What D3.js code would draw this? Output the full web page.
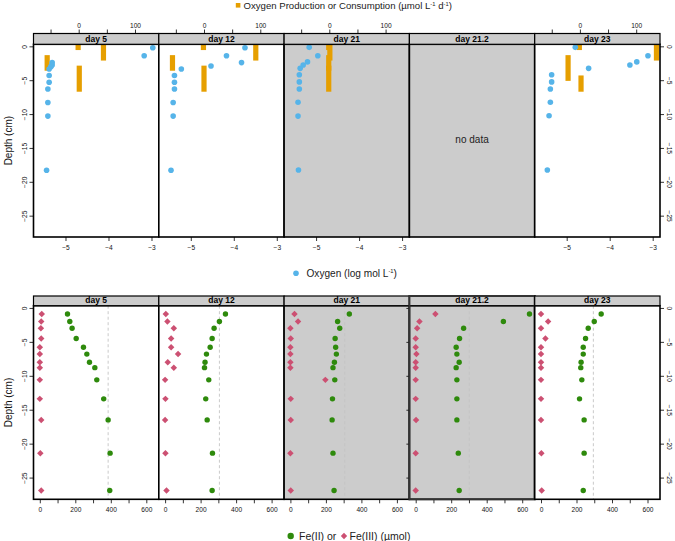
<!DOCTYPE html>
<html><head><meta charset="utf-8">
<script src="https://cdn.jsdelivr.net/npm/d3@7"></script>
<style>
body{margin:0;background:#fff}
text{font-family:"Liberation Sans",Arial,Helvetica,sans-serif}
</style>
</head><body>
<svg id="c" width="675" height="541"></svg>
<script>
// ---------- data ----------
const panels = ["day 5", "day 12", "day 21", "day 21.2", "day 23"];
const shaded = [false, false, true, true, false];
const depthTicks = [0, -5, -10, -15, -20, -25];
const o2Ticks = [-5, -4, -3];
const rateTicks = [-50, 0, 50, 100];
const rateLabels = [0, 100];
const feTicks = [0, 100, 200, 300, 400, 500, 600];
const feLabels = [0, 200, 400, 600];

// Oxygen (log mol L-1)
const o2Depth5  = [-0.2, -1.4, -2.4, -2.75, -3.0, -3.35, -4.3, -5.3, -6.3, -8.3, -10.3, -18.3];
const o2Value5  = [-2.97, -3.17, -5.31, -5.31, -5.34, -5.38, -5.38, -5.38, -5.41, -5.41, -5.41, -5.44];
const o2Depth12 = [-0.2, -1.4, -2.4, -2.9, -3.35, -4.3, -5.3, -6.3, -8.3, -10.3, -18.3];
const o2Value12 = [-3.74, -4.17, -3.82, -4.53, -5.22, -5.38, -5.38, -5.38, -5.41, -5.41, -5.46];
const o2Depth21 = [-0.15, -1.4, -2.3, -2.75, -3.25, -4.2, -5.25, -6.3, -8.25, -10.3, -18.25];
const o2Value21 = [-5.16, -4.96, -5.2, -5.3, -5.37, -5.39, -5.39, -5.39, -5.42, -5.42, -5.41];
const o2Depth23 = [-0.15, -1.4, -2.3, -2.75, -3.25, -4.2, -5.25, -6.3, -8.25, -10.25, -18.25];
const o2Value23 = [-4.8, -3.11, -3.37, -3.53, -4.49, -5.35, -5.35, -5.38, -5.38, -5.41, -5.45];

// Oxygen production / consumption (umol L-1 d-1) over depth intervals
const rateTop5  = [0.3, -1.3, 0.3, -2.85];
const rateBot5  = [-0.55, -3.6, -2.1, -6.7];
const rate5     = [-1, -56, 44, 1];
const rateTop12 = [0.3, -1.3, 0.3, -2.85];
const rateBot12 = [-0.55, -3.6, -2.1, -6.7];
const rate12    = [-1, -56, 92, 0];
const rateTop21 = [0.3, 0.3, -1.3, -2.85];
const rateBot21 = [-0.55, -2.1, -3.6, -6.7];
const rate21    = [-1, 1, -1, -1];
const rateTop23 = [0.3, -1.3, -4.3, 0.3];
const rateBot23 = [-0.55, -5.1, -6.7, -2.1];
const rate23    = [-1, -21, 2, 136];

// Fe (umol)
const feDepth = [-0.9, -2.0, -3.0, -4.5, -5.8, -6.8, -8.0, -8.8, -10.6, -13.4, -16.5, -21.4, -26.9];
const fe2_5   = [156, 169, 182, 205, 246, 265, 280, 310, 321, 360, 385, 396, 394];
const fe3_5   = [11, 8, 6, 8, 0, 0, 0, 0, 0, 0, 8, 3, 8];
const fe2_12  = [340, 306, 276, 265, 254, 233, 225, 222, 246, 229, 237, 267, 265];
const fe3_12  = [4, 13, 49, 34, 34, 73, 15, 49, 0, 2, 0, 2, 8];
const fe2_21  = [332, 266, 278, 252, 255, 259, 248, 240, 250, 237, 235, 240, 246];
const fe3_21  = [23, 43, 0, 2, 0, 0, 0, 0, 197, 2, 2, 0, 2];
const fe2_212 = [641, 494, 270, 247, 228, 232, 245, 228, 232, 232, 232, 240, 245];
const fe3_212 = [111, 21, 8, 0, 0, 4, 0, 0, 0, 0, 2, 0, 0];
const fe2_23  = [339, 300, 266, 251, 238, 238, 226, 224, 230, 217, 243, 243, 238];
const fe3_23  = [0, 40, 0, 25, 0, 0, 0, 0, 0, 0, 0, 2, 4];
const feRef   = [385, 306, 306, 302, 295];

// ---------- assemble ----------
const o2Sets = [[o2Depth5, o2Value5], [o2Depth12, o2Value12], [o2Depth21, o2Value21], null, [o2Depth23, o2Value23]];
const rateSets = [[rateTop5, rateBot5, rate5], [rateTop12, rateBot12, rate12], [rateTop21, rateBot21, rate21], null, [rateTop23, rateBot23, rate23]];
const feSets = [[fe2_5, fe3_5], [fe2_12, fe3_12], [fe2_21, fe3_21], [fe2_212, fe3_212], [fe2_23, fe3_23]];

const C_O2 = "#56B4E9", C_RATE = "#E69F00", C_FE2 = "#2E8A0C", C_FE3 = "#CC5072";
const GRAY = "#cccccc";

const W = 125.3, X0 = 33.5;
const px = i => X0 + i * W;
const RIGHT = px(5);

const yTop = d3.scaleLinear().domain([-28.15, 0.3]).range([237, 44.3]);
const yBot = d3.scaleLinear().domain([-28.2, 0.33]).range([499.3, 305.7]);
const xO2 = d3.scaleLinear().domain([-5.744, -2.83]).range([0, W]);
const xRate = d3.scaleLinear().domain([-80.3, 142.3]).range([0, W]);
const xFe = d3.scaleLinear().domain([-35.5, 670.4]).range([0, W]);

const svg = d3.select("#c");
const defs = svg.append("defs");
defs.append("clipPath").attr("id", "clipTop").append("rect")
  .attr("x", 0).attr("y", yTop.range()[1]).attr("width", W).attr("height", yTop.range()[0] - yTop.range()[1]);
defs.append("clipPath").attr("id", "clipBot").append("rect")
  .attr("x", 0).attr("y", yBot.range()[1]).attr("width", W).attr("height", yBot.range()[0] - yBot.range()[1]);

const fmt = d3.format("");
function styleAxis(g) {
  g.select(".domain").remove();
  g.selectAll(".tick line").attr("stroke", "#000").attr("stroke-width", 0.8);
  g.selectAll(".tick text").attr("font-size", 6.6).attr("fill", "#111")
    .style("font-family", "'Liberation Sans', Arial, sans-serif");
}

function rowFrame(y, stripTop, clipId, drawData, showAxes) {
  const stripBot = y.range()[1], bottom = y.range()[0];
  panels.forEach((name, i) => {
    const g = svg.append("g").attr("transform", `translate(${px(i)},0)`);
    g.append("rect").attr("x", 0).attr("y", stripBot).attr("width", W).attr("height", bottom - stripBot)
      .attr("fill", shaded[i] ? GRAY : "#fff");
    const dg = g.append("g").attr("clip-path", `url(#${clipId})`);
    drawData(dg, i);
    g.append("rect").attr("x", 0).attr("y", stripBot).attr("width", W).attr("height", bottom - stripBot)
      .attr("fill", "none").attr("stroke", "#000").attr("stroke-width", 1.6);
    g.append("rect").attr("x", 0).attr("y", stripTop).attr("width", W).attr("height", stripBot - stripTop)
      .attr("fill", GRAY).attr("stroke", "#000").attr("stroke-width", 1.2);
    g.append("text").attr("x", W / 2).attr("y", stripBot - 2.6).attr("text-anchor", "middle")
      .attr("font-size", 8.5).attr("font-weight", "bold").text(name);
    showAxes(g, i, stripTop, bottom);
  });
  // left and right depth axes
  const la = svg.append("g").attr("transform", `translate(${X0},0)`)
    .call(d3.axisLeft(y).tickValues(depthTicks).tickSize(4).tickFormat(d3.format("")));
  styleAxis(la);
  la.selectAll(".tick text").attr("transform", "rotate(-90)").attr("x", 0).attr("y", -7).attr("dy", 0)
    .attr("text-anchor", "middle");
  const ra = svg.append("g").attr("transform", `translate(${RIGHT},0)`)
    .call(d3.axisRight(y).tickValues(depthTicks).tickSize(4).tickFormat(d3.format("")));
  styleAxis(ra);
  ra.selectAll(".tick text").attr("transform", "rotate(90)").attr("x", 0).attr("y", -7).attr("dy", 0)
    .attr("text-anchor", "middle");
  // y title
  const cy = (stripBot + bottom) / 2;
  svg.append("text").attr("transform", `translate(11.5,${cy}) rotate(-90)`).attr("text-anchor", "middle")
    .attr("font-size", 10).attr("fill", "#111").text("Depth (cm)");
}

// ---------- top row: oxygen ----------
rowFrame(yTop, 33.5, "clipTop", (dg, i) => {
  const r = rateSets[i];
  if (r) {
    dg.selectAll("rect.rate").data(r[2].map((v, k) => ({ v, t: r[0][k], b: r[1][k] }))).join("rect")
      .attr("class", "rate")
      .attr("x", d => xRate(d.v) - 2.6).attr("width", 5.2)
      .attr("y", d => yTop(d.t)).attr("height", d => yTop(d.b) - yTop(d.t))
      .attr("fill", C_RATE);
  }
  const o = o2Sets[i];
  if (o) {
    dg.selectAll("circle").data(o[1].map((v, k) => ({ v, d: o[0][k] }))).join("circle")
      .attr("cx", d => xO2(d.v)).attr("cy", d => yTop(d.d)).attr("r", 2.8).attr("fill", C_O2);
  }
  if (!o) {
    dg.append("text").attr("x", W / 2).attr("y", 142.5).attr("text-anchor", "middle")
      .attr("font-size", 10).attr("fill", "#222").text("no data");
  }
}, (g, i, stripTop, bottom) => {
  if (!o2Sets[i]) return;
  const ta = g.append("g").attr("transform", `translate(0,${stripTop})`)
    .call(d3.axisTop(xRate).tickValues(rateTicks).tickSize(4).tickPadding(1.6)
      .tickFormat(d => rateLabels.includes(d) ? fmt(d) : ""));
  styleAxis(ta);
  const ba = g.append("g").attr("transform", `translate(0,${bottom})`)
    .call(d3.axisBottom(xO2).tickValues(o2Ticks).tickSize(4).tickPadding(4).tickFormat(d3.format("")));
  styleAxis(ba);
});

// ---------- bottom row: iron ----------
rowFrame(yBot, 296, "clipBot", (dg, i) => {
  const [f2, f3] = feSets[i];
  dg.append("line").attr("x1", xFe(feRef[i])).attr("x2", xFe(feRef[i]))
    .attr("y1", yBot.range()[1]).attr("y2", yBot.range()[0])
    .attr("stroke", "#c4c4c4").attr("stroke-width", 0.9).attr("stroke-dasharray", "3,2.5");
  dg.selectAll("path.fe3").data(f3.map((v, k) => ({ v, d: feDepth[k] }))).join("path")
    .attr("class", "fe3")
    .attr("d", d3.symbol(d3.symbolSquare, 21))
    .attr("transform", d => `translate(${xFe(d.v)},${yBot(d.d)}) rotate(45)`)
    .attr("fill", C_FE3);
  dg.selectAll("circle.fe2").data(f2.map((v, k) => ({ v, d: feDepth[k] }))).join("circle")
    .attr("class", "fe2")
    .attr("cx", d => xFe(d.v)).attr("cy", d => yBot(d.d)).attr("r", 2.7).attr("fill", C_FE2);
}, (g, i, stripTop, bottom) => {
  const ba = g.append("g").attr("transform", `translate(0,${bottom})`)
    .call(d3.axisBottom(xFe).tickValues(feTicks).tickSize(4).tickPadding(4)
      .tickFormat(d => feLabels.includes(d) ? fmt(d) : ""));
  styleAxis(ba);
  if (i === 3) {
    const ia = g.append("g").call(d3.axisLeft(yBot).tickValues(depthTicks).tickSize(3).tickFormat(""));
    styleAxis(ia);
    g.append("rect").attr("x", 0).attr("y", stripTop).attr("width", W).attr("height", bottom - stripTop)
      .attr("fill", "none").attr("stroke", "#333").attr("stroke-width", 2);
  }
});

// ---------- legends ----------
function sup(t, s) { t.append("tspan").attr("font-size", 5.8).attr("dy", -3.5).text(s); }
const lt = svg.append("g");
lt.append("rect").attr("x", 235.8).attr("y", 3).attr("width", 4.6).attr("height", 4.6).attr("fill", C_RATE);
const t1 = lt.append("text").attr("x", 243.5).attr("y", 9).attr("font-size", 9.6).attr("fill", "#222");
t1.append("tspan").text("Oxygen Production or Consumption (µmol L");
sup(t1, "-1");
t1.append("tspan").attr("dy", 3.5).text(" d");
sup(t1, "-1");
t1.append("tspan").attr("dy", 3.5).text(")");

svg.append("circle").attr("cx", 296).attr("cy", 273.3).attr("r", 2.8).attr("fill", C_O2);
const t2 = svg.append("text").attr("x", 306.5).attr("y", 276.8).attr("font-size", 10.1).attr("fill", "#222");
t2.append("tspan").text("Oxygen (log mol L");
sup(t2, "-1");
t2.append("tspan").attr("dy", 3.5).text(")");

svg.append("circle").attr("cx", 290.7).attr("cy", 536).attr("r", 3.2).attr("fill", C_FE2);
svg.append("text").attr("x", 299).attr("y", 539.6).attr("font-size", 10.5).attr("fill", "#222").text("Fe(II) or");
svg.append("path").attr("d", d3.symbol(d3.symbolSquare, 20)).attr("transform", "translate(344,536) rotate(45)").attr("fill", C_FE3);
svg.append("text").attr("x", 349.5).attr("y", 539.6).attr("font-size", 10.5).attr("fill", "#222").text("Fe(III) (µmol)");
</script>
</body></html>
